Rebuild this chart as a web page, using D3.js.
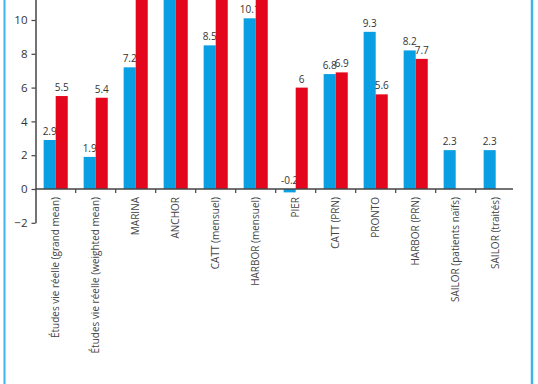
<!DOCTYPE html>
<html>
<head>
<meta charset="utf-8">
<script src="https://cdn.jsdelivr.net/npm/d3@7"></script>
<style>
  html, body { margin: 0; padding: 0; background: #fff; }
  svg { display: block; }
</style>
</head>
<body>
<script>
var svgwidth = 538,
    svgheight = 384;

// categories (x axis)
var categories = ["Études vie réelle (grand mean)", "Études vie réelle (weighted mean)",
                  "MARINA", "ANCHOR", "CATT (mensuel)", "HARBOR (mensuel)", "PIER",
                  "CATT (PRN)", "PRONTO", "HARBOR (PRN)", "SAILOR (patients naïfs)",
                  "SAILOR (traités)"];

// blue series and red series (null = no bar); values above ~11 are cut off in the picture
var blueValues = [2.9, 1.9, 7.2, 12.5, 8.5, 10.1, -0.2, 6.8, 9.3, 8.2, 2.3, 2.3];
var redValues  = [5.5, 5.4, 12.5, 13.5, 12.5, 12.0, 6, 6.9, 5.6, 7.7, null, null];

var yTicks = [-2, 0, 2, 4, 6, 8, 10];

var svg = d3.select("body").append("svg")
    .attr("width", svgwidth)
    .attr("height", svgheight);

// frame lines on both sides
svg.append("line").attr("x1", 4.5).attr("x2", 4.5).attr("y1", 0).attr("y2", svgheight)
    .attr("stroke", "#3db5e6").attr("stroke-width", 2);
svg.append("line").attr("x1", 532).attr("x2", 532).attr("y1", 0).attr("y2", svgheight)
    .attr("stroke", "#3db5e6").attr("stroke-width", 2.5);

//Scales
var x = d3.scaleBand().domain(categories).range([35.7, 515.7]).paddingInner(0).paddingOuter(0),
    x1 = d3.scaleBand().domain(["blue", "red"]).range([0, x.bandwidth()]).paddingInner(0).paddingOuter(0.66),
    y = d3.scaleLinear().domain([-2, 12]).range([222.8, -13.8]);

var colors = {blue: "#0a9fe2", red: "#e3061c"};

var rows = categories.map(function(c, i) {
  return {cat: c, blue: blueValues[i], red: redValues[i]};
});

// bars and value labels (labels of bars running off the top are not shown)
var g = svg.append("g");
rows.forEach(function(d) {
  ["blue", "red"].forEach(function(s) {
    var v = d[s];
    if (v === null) return;
    g.append("rect")
      .attr("x", x(d.cat) + x1(s))
      .attr("width", x1.bandwidth())
      .attr("y", y(Math.max(0, v)))
      .attr("height", Math.abs(y(v) - y(0)))
      .attr("fill", colors[s]);
    if (y(v) < 10) return;
    g.append("text")
      .attr("x", x(d.cat) + x1(s) + x1.bandwidth() / 2)
      .attr("y", y(Math.max(0, v)) - 5)
      .attr("text-anchor", "middle")
      .attr("font-family", "Open Sans")
      .attr("font-size", 10)
      .attr("fill", "#333")
      .text(v);
  });
});

//y axis
var yAxis = svg.append("g")
    .attr("transform", "translate(35.5,0)")
    .call(d3.axisLeft(y).tickValues(yTicks).tickSize(4).tickSizeOuter(0).tickPadding(4));
yAxis.select(".domain").attr("stroke", "#444").attr("stroke-width", 1.5);
yAxis.selectAll(".tick line").attr("stroke", "#444").attr("stroke-width", 1.2);
yAxis.selectAll(".tick text")
    .attr("font-family", "Open Sans").attr("font-size", 11.5).attr("fill", "#333");

//x axis line and boundary ticks
svg.append("line")
    .attr("x1", 35.5).attr("x2", 513)
    .attr("y1", y(0)).attr("y2", y(0))
    .attr("stroke", "#444").attr("stroke-width", 1.5);
svg.selectAll(".xtick")
    .data(categories.slice(1))
    .enter().append("line")
    .attr("class", "xtick")
    .attr("x1", function(c) { return x(c); })
    .attr("x2", function(c) { return x(c); })
    .attr("y1", y(0)).attr("y2", y(0) + 4)
    .attr("stroke", "#444").attr("stroke-width", 1.2);

// category labels, rotated
svg.selectAll(".catlabel")
    .data(categories)
    .enter().append("text")
    .attr("class", "catlabel")
    .attr("transform", function(c) {
      return "translate(" + (x(c) + x.bandwidth() / 2) + "," + (y(0) + 8) + ") rotate(-90)";
    })
    .attr("dy", "0.35em")
    .attr("text-anchor", "end")
    .attr("font-family", "Open Sans")
    .attr("font-size", 10)
    .attr("fill", "#444")
    .text(function(c) { return c; });
</script>
</body>
</html>
